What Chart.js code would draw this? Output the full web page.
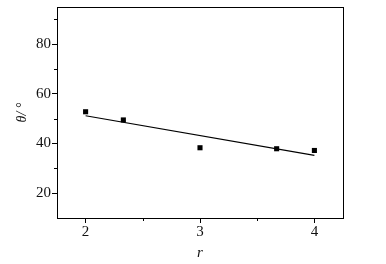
<!DOCTYPE html>
<html><head><meta charset="utf-8">
<script src="https://cdn.jsdelivr.net/npm/chart.js@4"></script>
<style>html,body{margin:0;padding:0;background:#fff}#wrap{width:386px;height:264px}</style>
</head><body><div id="wrap"><canvas id="c"></canvas></div>
<script>
const rValues = [2, 2.33, 3, 3.67, 4];
const thetaValues = [52.8, 49.5, 38.3, 37.9, 37.2];
const fitR = [2, 4];
const fitTheta = [51.2, 35.2];
const xTicks = [2, 3, 4];
const yTicks = [20, 40, 60, 80];
const xMinor = [2.5, 3.5];
const yMinor = [30, 50, 70, 90];

const frame = {
  id: 'frame',
  afterDraw(chart) {
    const {ctx, chartArea: a, scales} = chart;
    ctx.save();
    ctx.strokeStyle = '#000';
    ctx.lineWidth = 1;
    ctx.strokeRect(a.left + 0.5, a.top + 0.5, a.right - a.left, a.bottom - a.top);
    ctx.beginPath();
    xMinor.forEach(v => { const px = Math.round(scales.x.getPixelForValue(v)) + 0.5; ctx.moveTo(px, a.bottom); ctx.lineTo(px, a.bottom + 3); });
    yMinor.forEach(v => { const py = Math.round(scales.y.getPixelForValue(v)) + 0.5; ctx.moveTo(a.left, py); ctx.lineTo(a.left - 3, py); });
    ctx.stroke();
    ctx.restore();
  }
};

const serif = "'Liberation Serif', 'Times New Roman', serif";
new Chart(document.getElementById('c'), {
  type: 'scatter',
  data: {
    datasets: [
      { data: rValues.map((x, i) => ({x, y: thetaValues[i]})), pointStyle: 'rect', pointRadius: 3.6, pointBorderWidth: 0, backgroundColor: '#000', borderColor: '#000', showLine: false },
      { data: fitR.map((x, i) => ({x, y: fitTheta[i]})), showLine: true, pointRadius: 0, borderColor: '#000', borderWidth: 1.2 }
    ]
  },
  options: {
    responsive: true, maintainAspectRatio: false, animation: false,
    layout: { padding: { top: 7, right: 43, left: 0, bottom: 0 } },
    plugins: { legend: { display: false }, tooltip: { enabled: false } },
    scales: {
      x: {
        type: 'linear', min: 1.75, max: 4.25,
        afterBuildTicks: s => { s.ticks = xTicks.map(v => ({value: v})); },
        afterFit: s => { s.height = 46; s.paddingLeft = 0; s.paddingRight = 0; },
        grid: { drawOnChartArea: false, drawTicks: true, tickLength: 5, color: '#000', tickColor: '#000' },
        border: { display: true, color: '#000' },
        ticks: { color: '#111', font: { family: serif, size: 15 }, padding: 0, maxRotation: 0 },
        title: { display: true, text: 'r', color: '#111', font: { family: serif, size: 15, style: 'italic' }, padding: { top: 4, bottom: 2 } }
      },
      y: {
        type: 'linear', min: 10, max: 95,
        afterBuildTicks: s => { s.ticks = yTicks.map(v => ({value: v})); },
        afterFit: s => { s.width = 57; s.paddingTop = 0; s.paddingBottom = 0; },
        grid: { drawOnChartArea: false, drawTicks: true, tickLength: 5, color: '#000', tickColor: '#000' },
        border: { display: true, color: '#000' },
        ticks: { color: '#111', font: { family: serif, size: 15 }, padding: 1 },
        title: { display: true, text: 'θ/ °', color: '#111', font: { family: serif, size: 14, style: 'italic' }, padding: 14 }
      }
    }
  },
  plugins: [frame]
});
</script></body></html>
